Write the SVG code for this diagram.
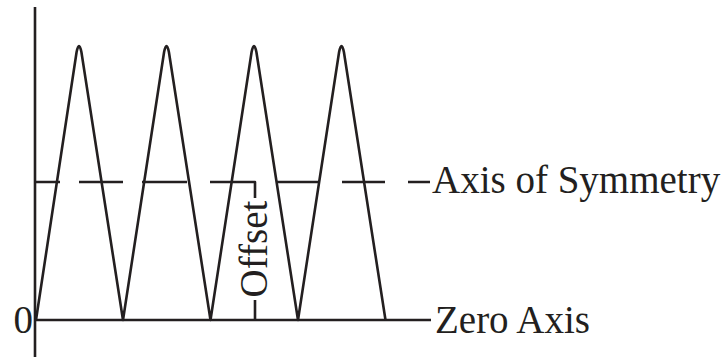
<svg xmlns="http://www.w3.org/2000/svg" width="724" height="358" viewBox="0 0 724 358">
<style>
.ln{fill:none;stroke:#231f20;stroke-width:2.6;stroke-linecap:butt;stroke-linejoin:round}
.tx{font-family:"Liberation Serif","Times New Roman",serif;font-size:39px;fill:#231f20}
</style>
<rect width="724" height="358" fill="#fff"/>
<g id="axes">
<line class="ln" x1="35" y1="7" x2="35" y2="357"/>
<line class="ln" x1="34" y1="320" x2="431" y2="320"/>
</g>
<g id="wave">
<path class="ln" d="M36,320 L76.6,52 Q79,40 81.4,52 L123,320 L164.1,52 Q166.5,40 168.9,52 L210.5,320 L251.6,52 Q254,40 256.4,52 L298,320 L339.1,52 Q341.5,40 343.9,52 L385.5,320"/>
</g>
<g id="symmetry">
<path class="ln" d="M35,182 H60 M79,182 H123 M142,182 H187 M210,182 H255 V198 M255,300 V320 M277,182 H319 M342,182 H385 M408,182 H430"/>
</g>
<g id="labels">
<text class="tx" x="33" y="333" text-anchor="end">0</text>
<text class="tx" x="432" y="193">Axis of Symmetry</text>
<text class="tx" x="435" y="333">Zero Axis</text>
<text class="tx" transform="translate(267,249) rotate(-90)" text-anchor="middle">Offset</text>
</g>
</svg>
